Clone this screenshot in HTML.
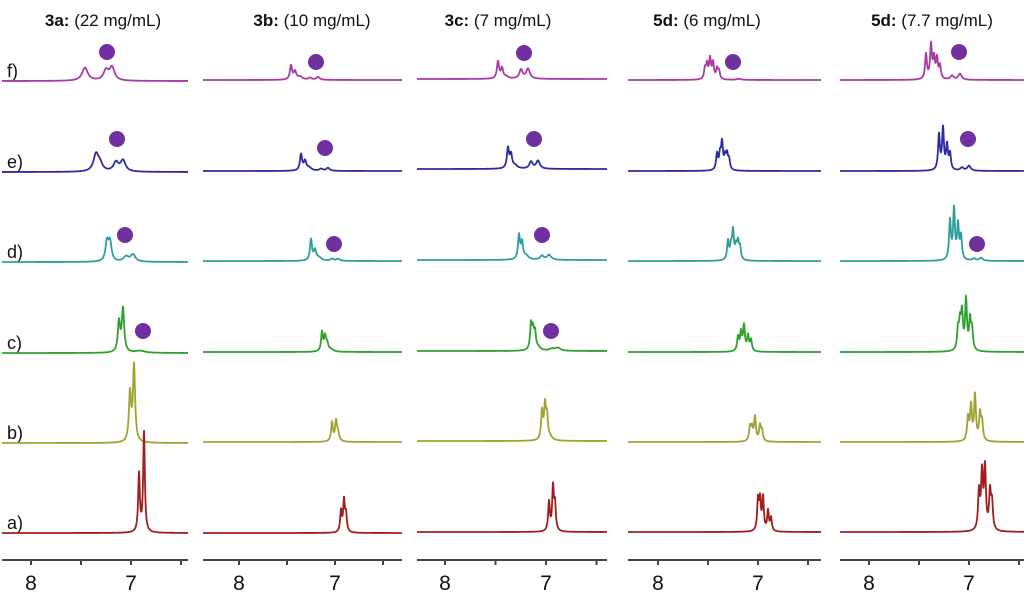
<!DOCTYPE html>
<html>
<head>
<meta charset="utf-8">
<style>
html,body{margin:0;padding:0;background:#fff;}
svg{display:block;}
text{font-family:"Liberation Sans",Arial,sans-serif;fill:#111;}
</style>
</head>
<body>
<svg id="s" width="1024" height="593" viewBox="0 0 1024 593" xmlns="http://www.w3.org/2000/svg">
  <g id="titles" font-size="17">
    <text x="103" y="26" text-anchor="middle"><tspan font-weight="bold">3a:</tspan> (22 mg/mL)</text>
    <text x="312" y="26" text-anchor="middle"><tspan font-weight="bold">3b:</tspan> (10 mg/mL)</text>
    <text x="498" y="26" text-anchor="middle"><tspan font-weight="bold">3c:</tspan> (7 mg/mL)</text>
    <text x="707" y="26" text-anchor="middle"><tspan font-weight="bold">5d:</tspan> (6 mg/mL)</text>
    <text x="932" y="26" text-anchor="middle"><tspan font-weight="bold">5d:</tspan> (7.7 mg/mL)</text>
  </g>
  <g id="labels" font-size="18">
    <text x="7" y="77">f)</text>
    <text x="7" y="168">e)</text>
    <text x="7" y="258">d)</text>
    <text x="7" y="349">c)</text>
    <text x="7" y="439">b)</text>
    <text x="7" y="529">a)</text>
  </g>
  <g id="ticklabels" font-size="21" text-anchor="middle">
    <text x="31" y="590">8</text><text x="131" y="590">7</text>
    <text x="239" y="590">8</text><text x="335" y="590">7</text>
    <text x="445" y="590">8</text><text x="546" y="590">7</text>
    <text x="658" y="590">8</text><text x="758" y="590">7</text>
    <text x="869" y="590">8</text><text x="969" y="590">7</text>
  </g>
  <g id="spec"></g>
  <g id="dots" fill="#7030a0">
    <circle cx="107" cy="52" r="8"/><circle cx="117" cy="139" r="8"/><circle cx="125" cy="235" r="8"/><circle cx="143" cy="331" r="8"/>
    <circle cx="316" cy="62" r="8"/><circle cx="325" cy="148" r="8"/><circle cx="334" cy="244" r="8"/>
    <circle cx="524" cy="53" r="8"/><circle cx="534" cy="139" r="8"/><circle cx="542" cy="235" r="8"/><circle cx="551" cy="331" r="8"/>
    <circle cx="733" cy="62" r="8"/>
    <circle cx="959" cy="52" r="8"/><circle cx="968" cy="139" r="8"/><circle cx="977" cy="244" r="8"/>
  </g>
  <g id="axes" stroke="#444" stroke-width="2" fill="none"></g>
</svg>
<script>
var colors=["#a83aa6","#2c2ca0","#2e9e9c","#2fa02f","#a2a230","#a01e1e"];
var panels=[
 {x0:2,x1:188,t8:31,t7:131,base:[81,172,262,353,443,533],sp:[
  [[85,13,3.5],[106,10,3],[112,13,3]],
  [[96,17,3],[100,7,3],[116,9,3],[123,11,3]],
  [[107,19,1.8],[110,19,1.8],[126,5,3],[133,7,3]],
  [[119,30,1.4],[123,43,1.4],[140,2,6]],
  [[130,48,1.3],[134,76,1.3]],
  [[139,58,1.0],[144,100,1.0]]]},
 {x0:203,x1:402,t8:239,t7:335,base:[80,171,261,352,442,533],sp:[
  [[291,14,1.3],[295,8,1.5],[300,3,3],[310,2,2],[318,3,2]],
  [[301,16,1.3],[305,9,1.5],[309,3,3],[321,2,2],[328,3,2]],
  [[311,21,1.2],[315,10,1.5],[319,3,3],[332,2,2],[338,2,2]],
  [[322,19,1.1],[325,13,1.1],[327,8,1.5],[331,2,3]],
  [[332,19,1.1],[336,19,1.1],[338,8,1.5]],
  [[341,21,1.0],[344,31,1.0],[346,17,1.0]]]},
 {x0:417,x1:607,t8:445,t7:546,base:[79,169,260,351,441,532],sp:[
  [[498,17,1.3],[502,10,1.3],[506,2,3],[521,9,2],[528,10,2.2]],
  [[508,20,1.3],[511,13,1.3],[515,3,3],[531,7,2],[538,8,2.2]],
  [[519,24,1.2],[522,16,1.2],[526,4,3],[542,4,2],[549,5,2.5]],
  [[531,25,1.1],[533,18,1.1],[535,16,1.1],[538,3,3],[552,2,3],[558,3,3]],
  [[542,28,1.1],[545,33,1.1],[547,22,1.1],[550,3,3]],
  [[549,29,1.0],[553,43,1.0],[555,25,1.0]]]},
 {x0:628,x1:821,t8:658,t7:758,base:[80,171,261,352,442,532],sp:[
  [[705,10,1.1],[707,14,1.1],[710,20,1.1],[713,16,1.1],[717,10,1.1],[719,8,1.1],[739,1,3]],
  [[717,16,1.1],[720,14,1.1],[722,26,1.1],[725,12,1.1],[727,14,1.1],[729,10,1.1]],
  [[728,19,1.1],[731,12,1.1],[733,28,1.1],[736,12,1.1],[738,16,1.1],[740,12,1.1]],
  [[738,14,1.1],[741,18,1.1],[744,25,1.1],[748,15,1.1],[751,11,1.1]],
  [[750,14,1.1],[752,12,1.1],[755,24,1.1],[760,15,1.1],[762,10,1.1]],
  [[758,30,1.0],[760,29,1.0],[763,33,1.0],[768,20,1.0],[771,13,1.0]]]},
 {x0:840,x1:1024,t8:869,t7:969,base:[80,171,261,352,442,532],sp:[
  [[926,25,1.1],[931,34,1.1],[934,20,1.1],[937,20,1.1],[940,13,1.1],[952,4,2],[960,6,2]],
  [[939,35,1.1],[943,41,1.1],[947,24,1.1],[950,16,1.1],[962,3,2],[969,5,2]],
  [[950,39,1.1],[954,50,1.1],[958,34,1.1],[961,23,1.1],[974,2,2],[981,3,2]],
  [[958,20,1.1],[960,25,1.1],[962,35,1.1],[966,50,1.1],[970,29,1.1],[972,20,1.1]],
  [[968,23,1.1],[971,34,1.1],[975,45,1.1],[980,26,1.1],[982,18,1.1]],
  [[979,38,1.1],[982,55,1.1],[985,61,1.1],[990,37,1.1],[992,26,1.1]]]}
];
var NS="http://www.w3.org/2000/svg";
var spec=document.getElementById("spec"),axes=document.getElementById("axes");
panels.forEach(function(p){
  p.sp.forEach(function(pk,i){
    var b=p.base[i],d="";
    for(var x=p.x0;x<=p.x1;x+=0.25){
      var y=0;
      for(var k=0;k<pk.length;k++){var dx=x-pk[k][0],w=pk[k][2];y+=pk[k][1]*w*w/(dx*dx+w*w);}
      d+=(d?"L":"M")+x.toFixed(2)+" "+(b-y).toFixed(2);
    }
    var path=document.createElementNS(NS,"path");
    path.setAttribute("d",d);path.setAttribute("fill","none");
    path.setAttribute("stroke",colors[i]);path.setAttribute("stroke-width","1.8");
    path.setAttribute("stroke-linejoin","round");
    spec.appendChild(path);
  });
  var a=document.createElementNS(NS,"path");
  var step=(p.t7-p.t8)/2, ticks="";
  for(var t=p.t8-step*2;t<=p.x1+0.1;t+=step){ if(t>=p.x0) ticks+="M"+t+" 560L"+t+" 565"; }
  a.setAttribute("d","M"+p.x0+" 560L"+p.x1+" 560"+ticks);
  axes.appendChild(a);
});
</script>
</body>
</html>
